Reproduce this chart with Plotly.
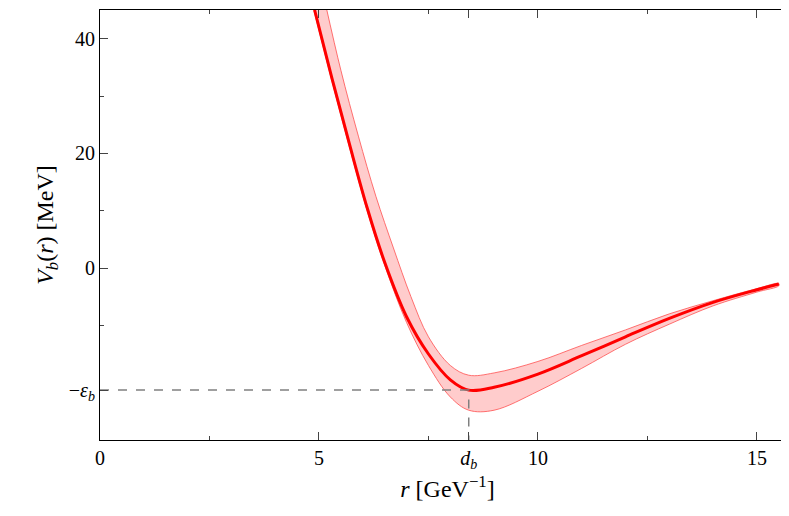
import plotly.graph_objects as go

r_c = [4.9,5.3,5.7,6.1,6.5,7.0,7.5,8.0,8.42,9.0,10,11,12,13,14,15,15.5]
V_c = [45,33,21.5,10.5,1,-8.5,-15,-19.5,-21.3,-20.8,-18.5,-15.3,-12,-8.8,-6,-3.8,-2.8]
r_u = [5.15,5.5,5.9,6.3,6.7,7.1,7.5,8.0,8.42,9.0,10,11,12,13,14,15,15.5]
V_u = [46,34.5,23,12.5,3.5,-5,-12,-17,-18.7,-18.3,-16.3,-13.5,-10.8,-8,-5.7,-3.6,-2.7]
r_l = [4.85,5.3,5.7,6.1,6.5,7.0,7.5,8.0,8.42,9.0,10,11,12,13,14,15,15.5]
V_l = [46,32.5,21,10,0.5,-9.5,-17,-22.5,-24.8,-24.8,-21.5,-17.5,-13.3,-9.8,-6.6,-4.2,-3.1]
eps_b = -21.3
d_b = 8.42

fig = go.Figure()
fig.add_trace(go.Scatter(x=r_u + r_l[::-1], y=V_u + V_l[::-1], fill="toself",
    fillcolor="rgba(255,0,0,0.2)", line=dict(color="rgba(255,80,80,0.8)", width=1, shape="spline"),
    mode="lines", hoverinfo="skip"))
fig.add_trace(go.Scatter(x=r_c, y=V_c, mode="lines", line=dict(color="red", width=3, shape="spline")))
fig.add_trace(go.Scatter(x=[0, d_b, d_b], y=[eps_b, eps_b, -30], mode="lines",
    line=dict(color="gray", width=1.5, dash="dash")))

font = "Liberation Serif"
fig.update_layout(
    width=789, height=516, showlegend=False, plot_bgcolor="white", paper_bgcolor="white",
    margin=dict(l=92, r=2, t=2, b=84), font=dict(family=font, size=20, color="black"),
    xaxis=dict(range=[0, 15.87], tickmode="array", tickvals=[0, 5, d_b, 10, 15],
        ticktext=["0", "5", "<i>d<sub>b</sub></i>", "10", "15"], automargin=False,
        ticks="inside", ticklen=8, mirror="allticks", showline=True, linecolor="black",
        showgrid=False, zeroline=False,
        minor=dict(tickmode="array", tickvals=[2.5, 7.5, 12.5], ticks="inside", ticklen=4),
        title=dict(text="<i>r</i> [GeV<sup>−1</sup>]", standoff=8)),
    yaxis=dict(range=[-30, 45], tickmode="array", tickvals=[eps_b, 0, 20, 40],
        ticktext=["−<i>ε<sub>b</sub></i>", "0", "20", "40"], automargin=False,
        ticks="inside", ticklen=8, mirror="allticks", showline=True, linecolor="black",
        showgrid=False, zeroline=False,
        minor=dict(tickmode="array", tickvals=[-10, 10, 30], ticks="inside", ticklen=4),
        title=dict(text="<i>V<sub>b</sub></i>(<i>r</i>) [MeV]", standoff=8)),
)
fig.write_html("out.html")
